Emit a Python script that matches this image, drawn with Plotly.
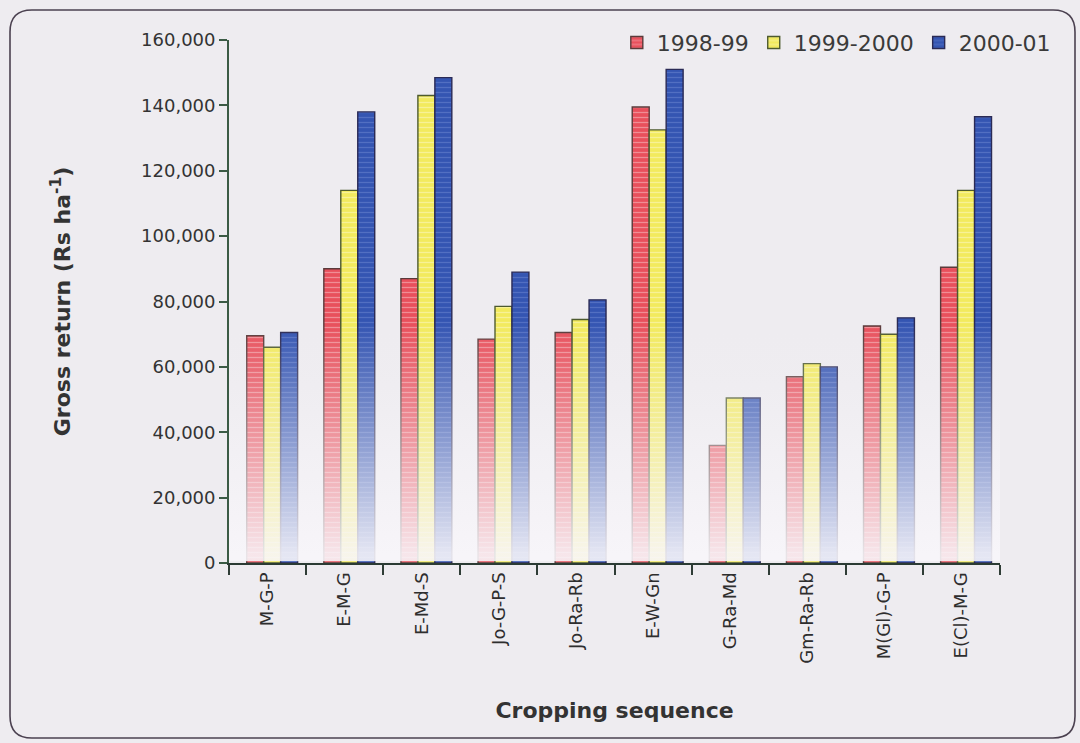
import base64
import plotly.graph_objects as go

# Gross return (Rs/ha) of cropping sequences over three years
sequences = ["M-G-P", "E-M-G", "E-Md-S", "Jo-G-P-S", "Jo-Ra-Rb",
             "E-W-Gn", "G-Ra-Md", "Gm-Ra-Rb", "M(Gl)-G-P", "E(Cl)-M-G"]
return_1998_99 = [69500, 90000, 87000, 68500, 70500, 139500, 36000, 57000, 72500, 90500]
return_1999_2000 = [66000, 114000, 143000, 78500, 74500, 132500, 50500, 61000, 70000, 114000]
return_2000_01 = [70500, 138000, 148500, 89000, 80500, 151000, 50500, 60000, 75000, 136500]

series_names = ["1998-99", "1999-2000", "2000-01"]
y_ticks = [0, 20000, 40000, 60000, 80000, 100000, 120000, 140000, 160000]

BG = "#eeecf0"
FONT = "DejaVu Sans"
W, H = 1080, 743
ML, MR, MT, MB = 229, 80, 40, 180

fig = go.Figure()

styles = [
    dict(color="#e8505c", line="#5a3a3a", fg="#ffffff", offset=-0.27),
    dict(color="#f2ea5e", line="#4d5a2e", fg="#ffffff", offset=-0.05),
    dict(color="#3455b2", line="#2a2a55", fg="#8aa0e0", offset=0.17),
]
for name, vals, st in zip(series_names,
                          [return_1998_99, return_1999_2000, return_2000_01],
                          styles):
    fig.add_trace(go.Bar(
        x=sequences, y=vals, name=name,
        width=0.22, offset=st["offset"],
        marker=dict(
            color=st["color"],
            line=dict(color=st["line"], width=1.4),
            pattern=dict(shape="-", fgcolor=st["fg"], fgopacity=0.35,
                         size=5, solidity=0.25),
        ),
    ))

# Fade toward the floor of the chart
svg = ('<svg xmlns="http://www.w3.org/2000/svg" width="100" height="100" '
       'viewBox="0 0 100 100" preserveAspectRatio="none"><defs>'
       '<linearGradient id="g" x1="0" y1="0" x2="0" y2="1">'
       f'<stop offset="0" stop-color="{BG}" stop-opacity="0"/>'
       f'<stop offset="0.5" stop-color="#f6f4f8" stop-opacity="0.45"/>'
       f'<stop offset="0.97" stop-color="#f8f6fa" stop-opacity="0.9"/>'
       f'<stop offset="1" stop-color="#f8f6fa" stop-opacity="0.9"/>'
       '</linearGradient></defs>'
       '<rect width="100" height="100" fill="url(#g)"/></svg>')
svg_uri = "data:image/svg+xml;base64," + base64.b64encode(svg.encode()).decode()
fig.add_layout_image(dict(
    source=svg_uri, xref="paper", yref="paper", x=0, y=0.46,
    sizex=1, sizey=0.457, xanchor="left", yanchor="top",
    sizing="stretch", layer="above",
))

# Rounded frame around the whole figure (pixel positions -> paper coords)
pw, ph = W - ML - MR, H - MT - MB


def px(x):
    return (x - ML) / pw


def py(y):
    return (H - MB - y) / ph


L, R, T, B, r = 10, 1075, 10, 738, 22
frame = (f"M {px(L + r)},{py(T)} L {px(R - r)},{py(T)} "
         f"Q {px(R)},{py(T)} {px(R)},{py(T + r)} "
         f"L {px(R)},{py(B - r)} Q {px(R)},{py(B)} {px(R - r)},{py(B)} "
         f"L {px(L + r)},{py(B)} Q {px(L)},{py(B)} {px(L)},{py(B - r)} "
         f"L {px(L)},{py(T + r)} Q {px(L)},{py(T)} {px(L + r)},{py(T)} Z")
fig.add_shape(type="path", path=frame, xref="paper", yref="paper",
              line=dict(color="#4b4150", width=1.6), layer="below")

fig.update_layout(
    width=W, height=H,
    margin=dict(l=ML, r=MR, t=MT, b=MB, autoexpand=False),
    paper_bgcolor=BG, plot_bgcolor=BG,
    font=dict(family=FONT, color="#333333"),
    barmode="group",
    showlegend=True,
    legend=dict(
        orientation="h", x=0.503, y=1.035, xanchor="left", yanchor="top",
        font=dict(size=22, family=FONT, color="#3a3a3a"),
        bgcolor="rgba(0,0,0,0)", itemwidth=30, traceorder="normal",
    ),
    xaxis=dict(
        type="category", tickangle=-90, tickson="boundaries",
        ticks="outside", ticklen=10, tickcolor="#2f3d36", tickwidth=1.5,
        showline=True, linecolor="#2b3b34", linewidth=2.2,
        tickfont=dict(size=18, family=FONT, color="#2e2e2e"),
        title=dict(text="<b>Cropping sequence</b>", standoff=40,
                   font=dict(size=22, family=FONT, color="#333333")),
        showgrid=False, automargin=False,
    ),
    yaxis=dict(
        range=[0, 160000], tickvals=y_ticks, tickformat=",",
        ticks="outside", ticklen=8, tickcolor="#3b5b45", tickwidth=1.5,
        showline=True, linecolor="#3b5b45", linewidth=1.8,
        tickfont=dict(size=18, family=FONT, color="#333333"),
        title=dict(text="<b>Gross return (Rs ha<sup>-1</sup>)</b>", standoff=64,
                   font=dict(size=22, family=FONT, color="#333333")),
        showgrid=False, zeroline=False, automargin=False,
    ),
)

fig.write_html("out.html")
